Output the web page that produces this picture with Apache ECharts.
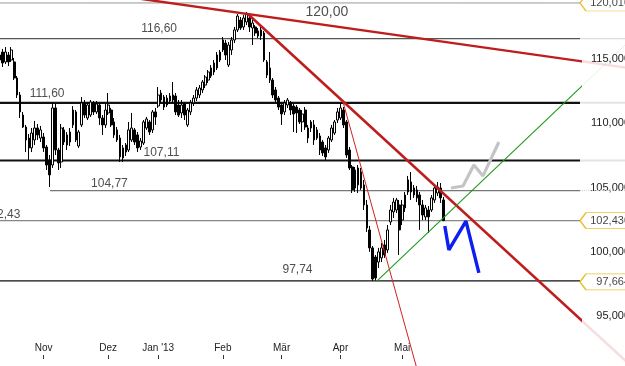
<!DOCTYPE html>
<html><head><meta charset="utf-8">
<script src="https://cdn.jsdelivr.net/npm/echarts@6/dist/echarts.min.js"></script>
<style>html,body{margin:0;padding:0;background:#fff}#c{width:625px;height:366px}</style>
</head><body><div id="c"></div>
<script>
// ---- trading days (categories) ----
const tradingMonths = [
 ['2012-10',[11,12,15,16,17,18,19,22,23,24,25,26,29,30,31]],
 ['2012-11',[1,2,5,6,7,8,9,12,13,14,15,16,19,20,21,22,23,26,27,28,29,30]],
 ['2012-12',[3,4,5,6,7,10,11,12,13,14,17,18,19,20,21,27,28]],
 ['2013-01',[2,3,4,7,8,9,10,11,14,15,16,17,18,21,22,23,24,25,28,29,30,31]],
 ['2013-02',[1,4,5,6,7,8,11,12,13,14,15,18,19,20,21,22,25,26,27,28]],
 ['2013-03',[1,4,5,6,7,8,11,12,13,14,15,18,19,20,21,22,25,26,27,28]],
 ['2013-04',[2,3,4,5,8,9,10,11,12,15,16,17,18,19,22,23,24,25,26,29,30]],
 ['2013-05',[2,3,6,7,8,9,10,13,14,15,16,17,20,21,22,23,24,27,28,29,30,31]],
 ['2013-06',[3,4,5,6,7,10,11,12,13,14,17,18,19,20,21,24,25,26,27,28]],
 ['2013-07',[1,2,3,4,5,8,9,10,11,12,15,16,17,18,19,22,23,24,25]]
];
const tickDates = ['2012-11-01','2012-12-03','2013-01-02','2013-02-01','2013-03-01','2013-04-02','2013-05-02'];
const tickLabels = ['Nov','Dez',"Jan '13",'Feb','Mär','Apr','Mai'];
const yTickValues = [95,100,105,110,115];

// ---- OHLC ----
const opens = [
115.32,115.55,114.78,115.32,114.93,114.78,113.53,112.21,110.65,109.72,
108.86,108.09,108.71,109.64,108.86,108.94,108.16,107.15,106.76,111.20,
107.93,107.00,109.49,109.10,108.55,109.88,110.89,108.24,109.88,111.59,
110.42,110.65,111.59,110.89,111.43,110.42,109.88,110.81,111.04,110.11,
109.49,108.86,108.09,107.77,107.93,108.71,109.49,109.10,108.16,108.47,
109.64,110.11,109.49,110.89,111.35,112.36,112.05,111.43,111.74,111.82,
112.13,111.43,110.81,111.51,109.88,110.89,111.59,111.97,112.21,112.60,
112.98,113.37,113.69,114.00,114.31,115.55,115.71,116.25,114.54,115.71,
116.49,117.27,118.04,117.50,117.89,118.20,117.42,117.50,116.80,117.27,
117.03,114.78,114.31,113.37,112.60,111.97,111.43,110.89,111.43,111.59,
111.35,111.27,111.04,110.11,111.04,109.64,109.64,109.88,108.86,109.02,
108.55,108.09,107.93,108.71,109.25,110.26,110.42,111.04,110.11,107.93,
106.61,104.97,105.21,106.22,105.21,103.65,101.71,100.31,99.60,99.21,
99.53,100.54,100.15,102.33,103.11,103.26,103.65,102.48,103.42,104.66,
105.44,104.97,104.82,104.43,103.65,102.72,103.26,103.26,104.04,104.58,
104.97,104.04];
const closes = [
114.93,114.70,115.55,114.78,115.71,113.53,112.21,110.89,109.72,108.71,
108.09,109.25,109.64,109.10,109.49,108.09,106.76,105.99,111.20,107.93,
106.92,109.64,108.55,108.32,109.33,111.04,108.71,109.33,111.59,110.65,
111.43,111.66,110.89,111.51,110.42,109.88,111.04,111.43,109.88,109.10,
108.71,107.39,107.31,108.32,109.49,109.64,108.55,108.09,108.63,110.11,
110.34,109.33,110.89,110.50,112.21,111.82,111.27,111.97,112.13,112.21,
110.89,110.65,111.43,110.65,111.04,111.59,111.97,112.60,112.75,113.22,
113.61,114.00,114.31,114.70,115.32,114.93,116.49,115.32,116.10,116.49,
117.27,118.35,117.42,118.20,118.51,117.50,117.81,117.03,117.19,116.80,
114.93,113.76,113.37,112.21,111.82,111.27,110.73,111.59,111.82,111.04,
110.73,110.81,110.11,110.73,109.72,108.86,110.11,108.71,109.49,107.93,
107.70,107.39,108.86,109.64,110.11,110.89,111.20,109.88,107.54,106.53,
104.82,106.37,106.53,104.97,103.65,101.86,100.31,97.89,97.97,100.00,
100.31,99.76,101.71,103.26,103.88,104.04,101.71,103.65,104.43,105.60,
104.66,104.43,104.20,103.65,102.87,103.42,102.72,104.20,104.97,105.05,
104.20,102.43];
const lows = [
114.54,114.39,114.62,114.46,114.78,113.37,111.97,110.42,109.64,107.77,
107.15,107.77,108.32,108.71,108.55,107.77,106.37,105.05,106.53,107.54,
106.37,106.53,108.32,107.93,108.24,109.64,108.55,108.09,109.72,110.42,
110.26,110.50,110.65,110.73,109.88,109.10,109.64,110.65,109.72,108.86,
108.55,107.00,107.00,107.46,107.77,108.55,108.32,107.77,107.93,108.32,
109.49,109.10,109.25,109.88,111.20,111.59,111.04,111.27,111.51,111.59,
110.65,110.50,110.42,110.26,109.72,110.65,111.35,111.74,111.97,112.36,
112.75,113.14,113.53,113.76,114.15,114.78,115.55,114.93,114.39,115.32,
116.25,117.11,117.27,117.27,117.65,117.11,116.10,116.80,116.64,116.49,
114.78,113.53,113.14,111.97,111.59,111.04,109.88,110.65,111.20,110.65,
109.33,109.25,109.95,109.33,109.49,108.47,109.33,108.32,108.71,107.54,
107.46,107.15,107.70,108.55,109.10,110.03,110.26,109.64,107.31,106.37,
104.58,104.66,104.58,104.82,103.26,101.55,100.00,97.74,97.78,98.75,
99.21,99.53,99.92,102.09,102.64,103.03,99.76,102.09,103.11,104.43,
104.04,104.20,103.88,101.71,102.48,102.48,101.47,103.11,103.81,104.35,
103.81,102.40];
const highs = [
115.71,115.79,115.94,115.55,115.94,115.09,113.69,112.44,110.89,109.88,
109.17,109.64,110.19,109.95,109.80,109.25,108.32,107.54,111.59,111.51,
108.09,109.95,109.72,109.33,109.64,111.35,111.04,109.49,112.05,111.82,
111.66,111.82,111.74,111.74,111.59,110.65,111.51,112.36,111.20,110.42,
109.72,109.10,108.32,108.47,110.11,110.81,109.64,109.33,108.86,110.26,
110.50,110.26,111.04,111.20,112.83,112.60,112.21,112.21,112.36,113.22,
112.36,111.82,111.82,111.66,111.20,111.82,112.21,112.83,112.98,113.37,
113.76,114.15,114.54,114.93,115.55,115.71,116.72,116.49,116.33,116.72,
117.50,118.51,118.28,118.43,118.67,118.35,118.04,117.65,117.42,117.50,
117.19,114.93,115.55,113.53,112.83,112.13,111.59,111.82,111.97,111.74,
111.51,111.43,111.20,111.04,111.27,109.88,110.26,110.26,109.72,109.25,
108.71,108.32,109.02,109.88,110.26,111.20,111.59,111.27,110.26,108.16,
106.76,106.61,106.76,106.53,105.60,104.04,102.02,100.46,99.76,100.31,
100.69,100.93,102.09,103.65,104.20,104.20,104.04,104.04,104.66,105.91,
106.22,105.21,105.13,104.66,104.04,103.65,103.57,104.43,105.21,105.44,
105.36,104.27];

// ---- levels & annotations ----
const topLevel = 120.01;
const levelValues = [116.60, 111.60, 107.11, 104.77, 102.43, 97.74];
const levelTexts  = ['116,60','111,60','107,11','104,77','102,43','97,74'];
const tagValues = [120.01, 102.43, 97.664];
const tagTexts  = ['120,010','102,430','97,664'];
// trend lines: [day index, value]
const trendRed1  = [[40,119.95],[215,114.28]];
const trendRed2  = [[84.5,118.51],[215,91.10]];
const trendRed3  = [[116.8,111.74],[143,90.10]];
const trendGreen = [[128.3,97.70],[215,116.56]];
const forecastGray = [[153.6,104.97],[157.7,105.13],[161.4,106.76],[164.5,105.91],[169.9,108.55]];
const forecastBlue = [[151.5,102.02],[152.9,100.15],[158.7,102.40],[163.1,98.36]];
const trendLabel = '120,00';

// ---- layout/style (not data) ----
const yMin = 91.12, yMax = 119.60;
const levelStart = [-0.5,-0.5,-0.5,17.2,-0.5,-0.5];
const levelLabelAt = [54.3,16.2,55.1,37.4,0.9,101.4];
const levelLabelOff = [-10,-9,-8,-7,-6,-11];
const levelStyle = [
  {color:'#555',width:1.3},{color:'#111',width:2.2},{color:'#111',width:2.2},
  {color:'#777',width:1.3},{color:'#888',width:1.2},{color:'#111',width:1.2}];
const extStyle = [
  {color:'#dcdcdc',width:1.3,type:'solid'},{color:'#e4e4e4',width:2,type:'solid'},{color:'#e4e4e4',width:2,type:'solid'},
  {color:'#d0d0d0',width:1,type:'dotted'},null,null];
const FONT = '"Liberation Sans", Arial, sans-serif';
const RED = '#bf1d1d';

const categories = [];
tradingMonths.forEach(([m, days]) => days.forEach(d => categories.push(m + '-' + String(d).padStart(2,'0'))));
const nCat = categories.length;
const xMaxIdx = nCat - 0.5;
const candleData = opens.map((o,i)=>[o, closes[i], lows[i], highs[i]]);
const topShown = Math.min(topLevel, yMax - 0.23);
const isTick = (i) => tickDates.indexOf(categories[i]) >= 0;

function line(data, ls, z, xi, yi, extra){
  return Object.assign({type:'line', data, xAxisIndex:xi, yAxisIndex:yi, symbol:'none', silent:true,
    z, lineStyle:ls, clip:true}, extra||{});
}
const series = [];
series.push(line([[-0.5,topShown],[xMaxIdx,topShown]], {color:'#999',width:1}, 2, 1, 0));
levelValues.forEach((v,i)=>{
  series.push(line([[levelStart[i],v],[xMaxIdx,v]], levelStyle[i], 2, 1, 0));
  if (extStyle[i]) series.push(line([[xMaxIdx,v],[215,v]], extStyle[i], 2, 2, 1));
});
series.push({type:'candlestick', data:candleData, xAxisIndex:0, yAxisIndex:0, barWidth:2.2, z:3, silent:true,
  itemStyle:{color:'#fff', color0:'#000', borderColor:'#000', borderColor0:'#000', borderWidth:1}});
series.push(line(trendRed1, {color:RED,width:2.4}, 4, 1, 0));
series.push(line(trendRed2, {color:RED,width:2.6}, 4, 1, 0));
series.push(line(trendRed3, {color:'#d42020',width:1}, 4, 1, 0));
series.push(line(trendGreen, {color:'#1f9a1f',width:1.1}, 4, 1, 0));
series.push(line(trendRed1, {color:'rgba(200,30,30,0.15)',width:2.4}, 2, 2, 1));
series.push(line(trendRed2, {color:'rgba(200,30,30,0.15)',width:2.6}, 2, 2, 1));
series.push(line(trendGreen, {color:'rgba(30,150,30,0.12)',width:1}, 2, 2, 1));
series.push(line(forecastGray, {color:'#c4c4c4',width:3.2}, 5, 1, 0));
series.push(line(forecastBlue, {color:'#0c1ef2',width:3.4}, 5, 1, 0));
const lblItems = levelValues.map((v,i)=>({value:[levelLabelAt[i], v],
  label:{formatter:levelTexts[i], offset:[0,levelLabelOff[i]]}}));
lblItems.push({value:[111.4, 117.64], label:{formatter:trendLabel, offset:[0,-13], fontSize:14}});
series.push({type:'scatter', data:lblItems, xAxisIndex:1, yAxisIndex:0, symbolSize:1, silent:true, z:6, clip:false,
  itemStyle:{color:'rgba(0,0,0,0)'},
  label:{show:true, position:'inside', color:'#222', fontSize:12, fontFamily:FONT}});
const tagItems = tagValues.map((v,i)=>({value:[xMaxIdx, i===0 ? topShown : v],
  label:{formatter:tagTexts[i]}}));
series.push({type:'scatter', data:tagItems, xAxisIndex:2, yAxisIndex:1, silent:true, z:7, clip:false,
  symbol:'path://M0,8 L6,0 L48,0 L48,16 L6,16 Z', symbolSize:[48,16], symbolOffset:[24,0],
  itemStyle:{color:'#fff', borderColor:'#e2b000', borderWidth:1},
  label:{show:true, position:'inside', align:'right', offset:[26,0], color:'#111', fontSize:11, fontFamily:FONT}});

const chart = echarts.init(document.getElementById('c'));
chart.setOption({
  animation:false,
  backgroundColor:'#fff',
  textStyle:{fontFamily:FONT},
  grid:[{left:-2, right:45, top:0, bottom:0, containLabel:false, outerBoundsMode:'none'},
        {left:580, right:0, top:0, bottom:0, containLabel:false, outerBoundsMode:'none'}],
  xAxis:[
    {type:'category', gridIndex:0, data:categories, boundaryGap:true, offset:-7,
     axisLine:{show:false},
     axisTick:{show:true, inside:true, length:4, alignWithLabel:true, interval:(i)=>isTick(i), lineStyle:{color:'#333'}},
     axisLabel:{inside:true, margin:6, fontSize:10, color:'#222', interval:(i)=>isTick(i),
       formatter:(v)=>{const k=tickDates.indexOf(v); return k>=0?tickLabels[k]:'';}},
     splitLine:{show:false}},
    {type:'value', gridIndex:0, min:-0.5, max:xMaxIdx, show:false},
    {type:'value', gridIndex:1, min:xMaxIdx, max:xMaxIdx+15.3, show:false}
  ],
  yAxis:[
    {type:'value', gridIndex:0, position:'right', min:yMin, max:yMax,
     axisLine:{show:false}, axisTick:{show:false}, splitLine:{show:false},
     axisLabel:{customValues:yTickValues, align:'right', margin:50, fontSize:11, color:'#222',
       formatter:(v)=>v.toFixed(3).replace('.',',')}},
    {type:'value', gridIndex:1, min:yMin, max:yMax, show:false}
  ],
  series
});
</script></body></html>
